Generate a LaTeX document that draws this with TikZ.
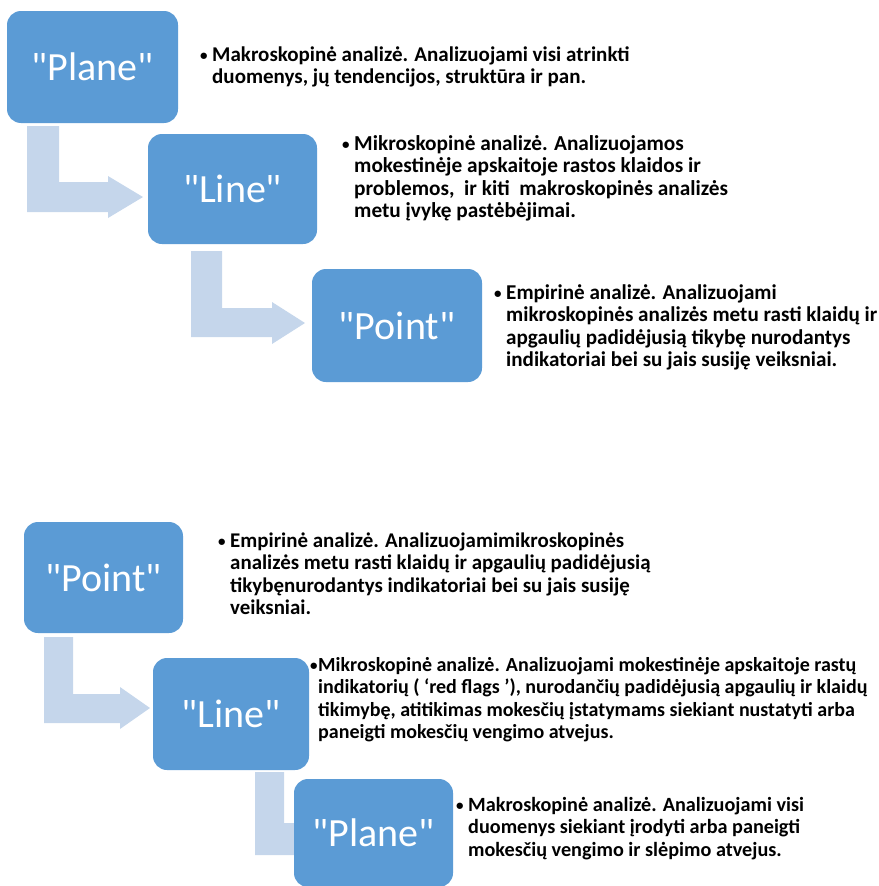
\documentclass[tikz,border=0pt]{standalone}
\usepackage{fontspec}
\setmainfont{Carlito}
\newfontfamily\labelfont{Carlito}[Ligatures=TeXOff]
\definecolor{boxblue}{RGB}{91,155,213}
\definecolor{arrowblue}{RGB}{197,214,235}
\newcommand\bul[1][12pt]{\makebox[#1][l]{\fontsize{15}{15}\selectfont\raisebox{0.5pt}{•}}}
\begin{document}
\begin{tikzpicture}[x=1pt,y=-1pt,
  stage/.style={rectangle, rounded corners=14pt, fill=boxblue, text=white,
    font=\labelfont\fontsize{40}{48}\selectfont, inner sep=0pt},
  info/.style={anchor=base west, inner sep=0pt, text=black},
  bendarrow/.style={fill=arrowblue}]
\useasboundingbox (0,0) rectangle (878,886);

% bent arrows (behind the boxes)
\fill[bendarrow] (27,126) -- (27,212) -- (108,212) -- (108,218) -- (143,197) -- (108,176) -- (108,182) -- (59,182) -- (59,126) -- cycle;
\fill[bendarrow] (191,251) -- (191,337) -- (272,337) -- (272,344) -- (305,323) -- (272,302) -- (272,308) -- (222,308) -- (222,251) -- cycle;
\fill[bendarrow] (44,637) -- (44,723) -- (120,723) -- (120,729) -- (150,708) -- (120,687) -- (120,694) -- (73,694) -- (73,637) -- cycle;
\fill[bendarrow] (255,772) -- (255,855) -- (320,855) -- (320,861) -- (345,839) -- (320,817) -- (320,823) -- (284,823) -- (284,772) -- cycle;

% top diagram
\node[stage, minimum width=171pt, minimum height=112pt] (P1) at (92.5,67) {"Plane"};
\node[stage, minimum width=169pt, minimum height=110pt] (L1) at (232.5,189) {"Line"};
\node[stage, minimum width=170pt, minimum height=113pt] (T1) at (397,325.5) {"Point"};

% bottom diagram
\node[stage, minimum width=159pt, minimum height=111pt] (T2) at (103.5,577.5) {"Point"};
\node[stage, minimum width=156pt, minimum height=112pt] (L2) at (231,714) {"Line"};
\node[stage, minimum width=159pt, minimum height=108pt] (P2) at (373.5,833) {"Plane"};

% texts
\node[info, font=\bfseries\fontsize{21}{22.5}\selectfont] (x1) at (200,61) {\begin{tabular}[t]{@{}l@{}l@{}}\bul&Makroskopinė analizė. Analizuojami visi atrinkti\\
 &duomenys, jų tendencijos, struktūra ir pan.\end{tabular}};
\node[info, font=\bfseries\fontsize{21.3}{22.5}\selectfont] (x2) at (342,150) {\begin{tabular}[t]{@{}l@{}l@{}}\bul&Mikroskopinė analizė. Analizuojamos\\
 &mokestinėje apskaitoje rastos klaidos ir\\
 &problemos,\ \ ir kiti\ \ makroskopinės analizės\\
 &metu įvykę pastėbėjimai.\end{tabular}};
\node[info, font=\bfseries\fontsize{21.1}{22.5}\selectfont] (x3) at (494,299) {\begin{tabular}[t]{@{}l@{}l@{}}\bul&Empirinė analizė. Analizuojami\\
 &mikroskopinės analizės metu rasti klaidų ir\\
 &apgaulių padidėjusią tikybę nurodantys\\
 &indikatoriai bei su jais susiję veiksniai.\end{tabular}};

\node[info, font=\bfseries\fontsize{20.9}{22.5}\selectfont] (y1) at (218,547) {\begin{tabular}[t]{@{}l@{}l@{}}\bul&Empirinė analizė. Analizuojamimikroskopinės\\
 &analizės metu rasti klaidų ir apgaulių padidėjusią\\
 &tikybęnurodantys indikatoriai bei su jais susiję\\
 &veiksniai.\end{tabular}};
\node[info, font=\bfseries\fontsize{20}{22.5}\selectfont] (y2) at (310,671) {\begin{tabular}[t]{@{}l@{}l@{}}\bul[8pt]&Mikroskopinė analizė. Analizuojami mokestinėje apskaitoje rastų\\
 &indikatorių ( ‘red flags ’), nurodančių padidėjusią apgaulių ir klaidų\\
 &tikimybę, atitikimas mokesčių įstatymams siekiant nustatyti arba\\
 &paneigti mokesčių vengimo atvejus.\end{tabular}};
\node[info, font=\bfseries\fontsize{20.2}{22.5}\selectfont] (y3) at (456,811) {\begin{tabular}[t]{@{}l@{}l@{}}\bul&Makroskopinė analizė. Analizuojami visi\\
 &duomenys siekiant įrodyti arba paneigti\\
 &mokesčių vengimo ir slėpimo atvejus.\end{tabular}};
\end{tikzpicture}
\end{document}
